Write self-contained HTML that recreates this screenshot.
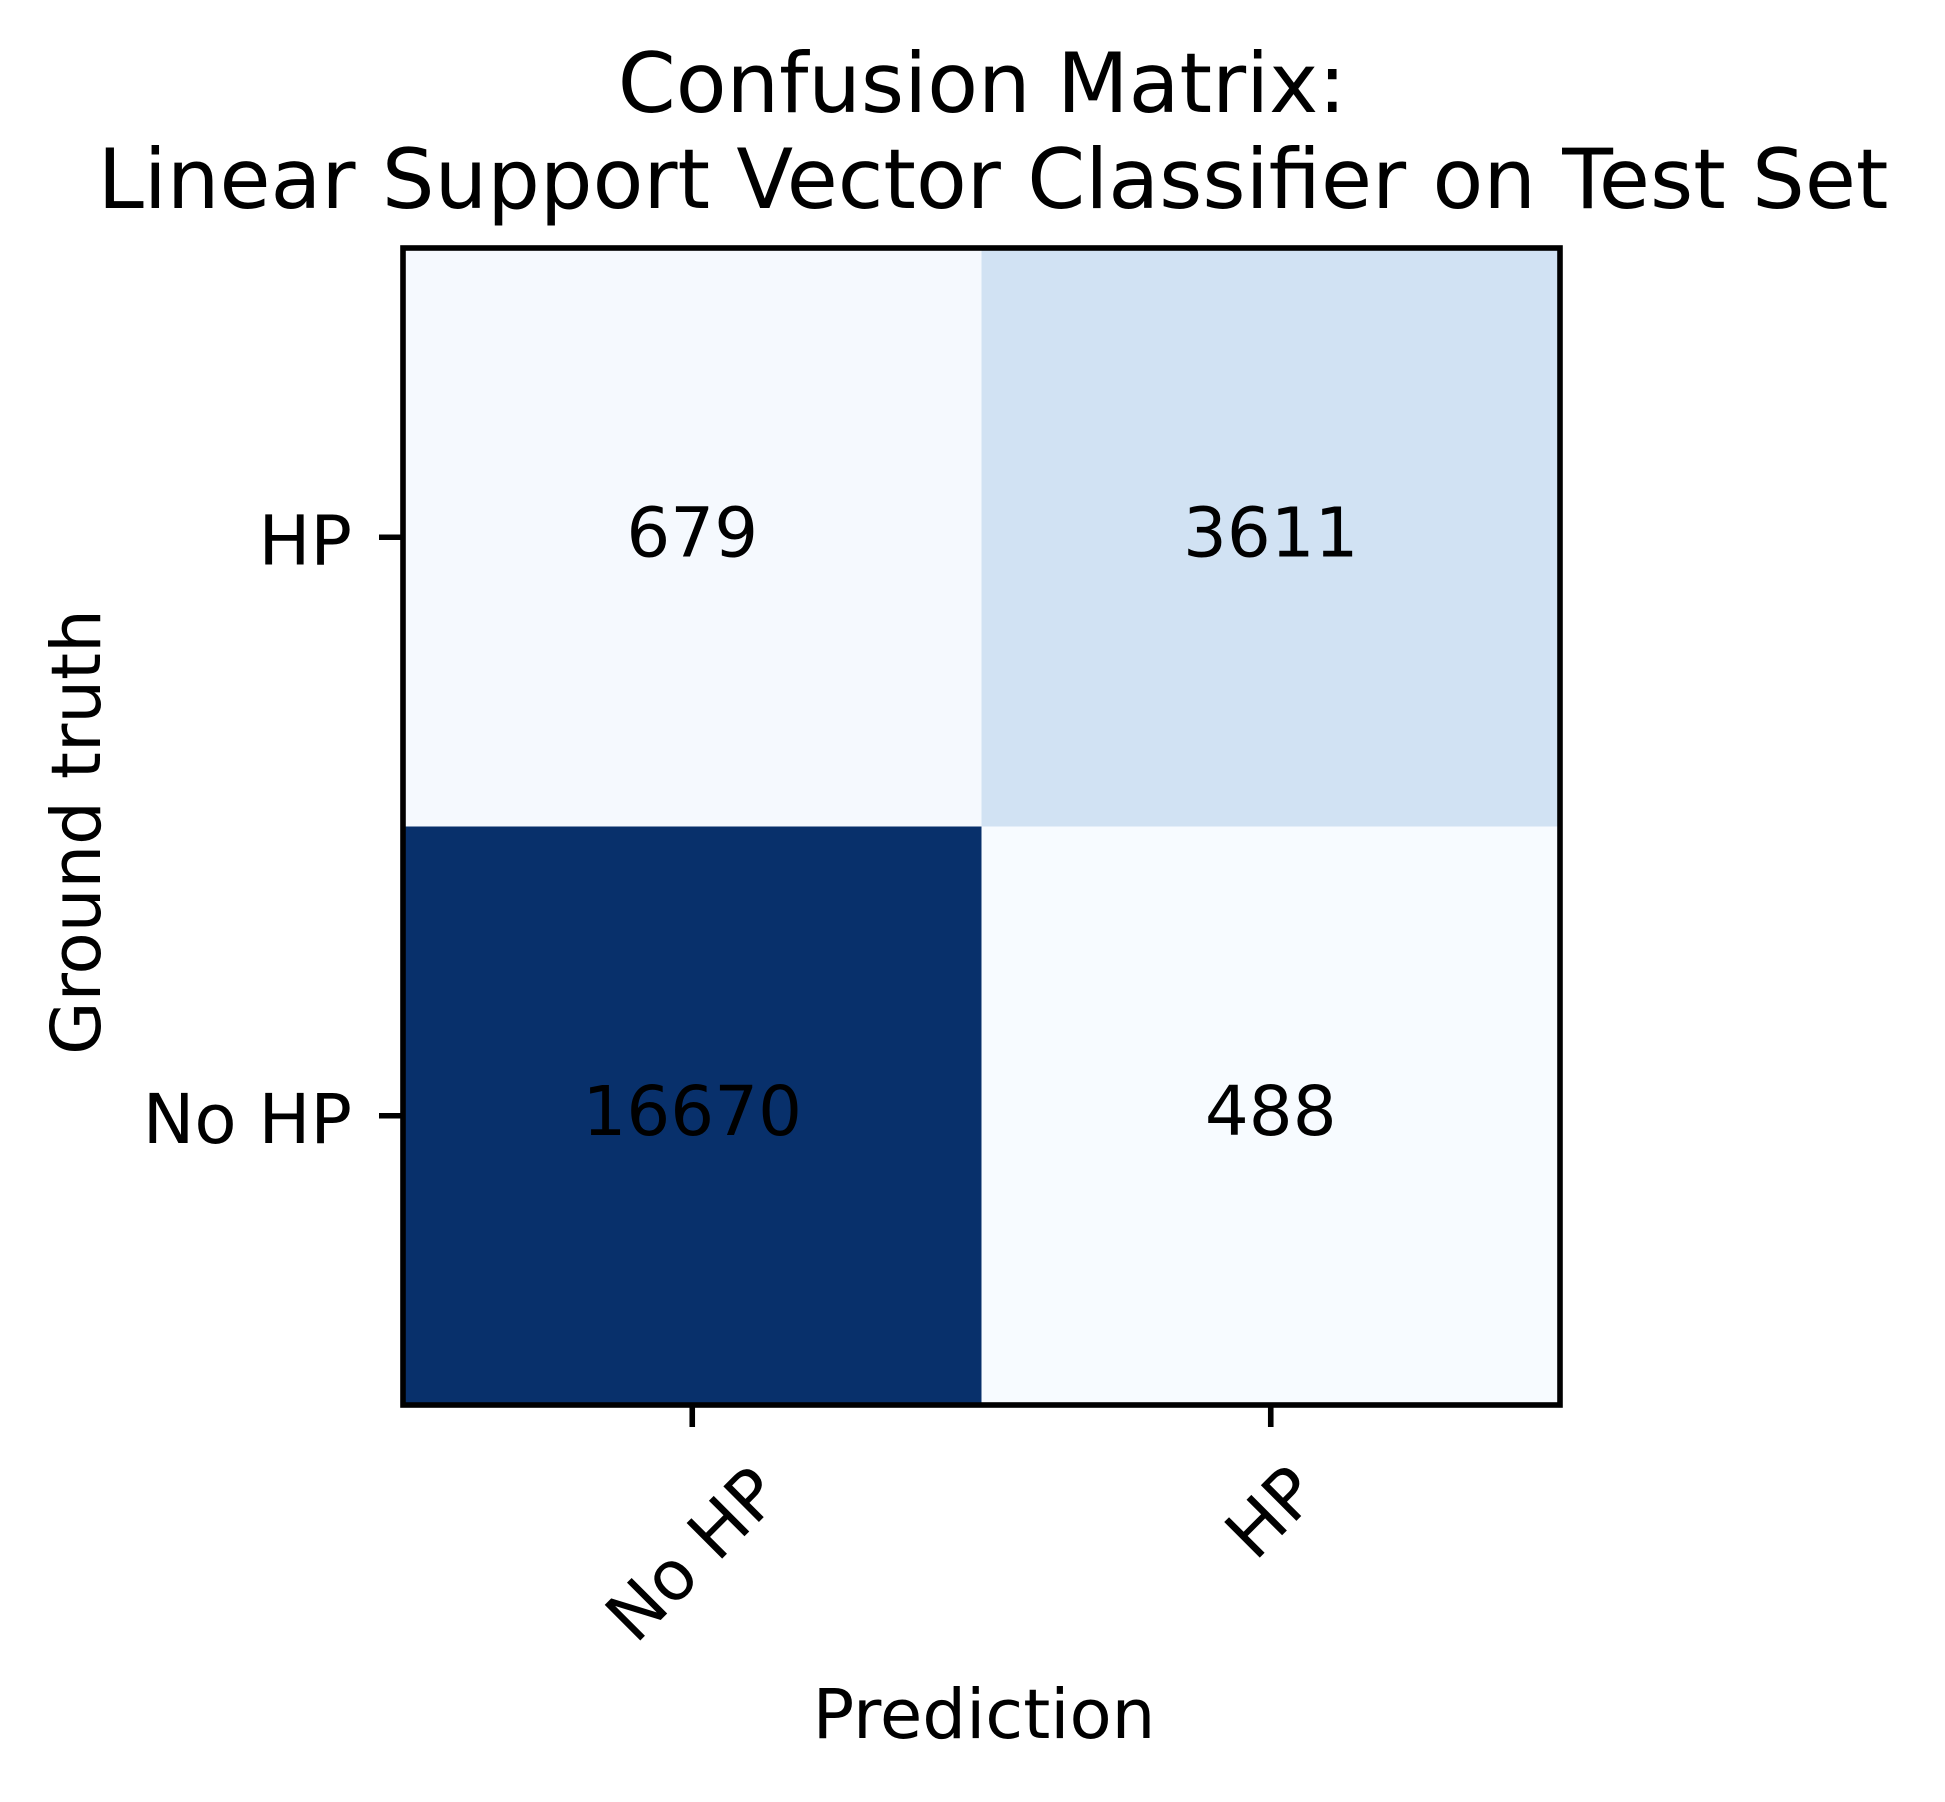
<!DOCTYPE html>
<html><head><meta charset="utf-8"><style>
html,body{margin:0;padding:0;background:#fff;}
svg{display:block;font-family:"DejaVu Sans","Liberation Sans",sans-serif;}
</style></head><body>
<svg id="chart" width="1945" height="1802" viewBox="0 0 1945 1802" xmlns="http://www.w3.org/2000/svg">
<rect width="1945" height="1802" fill="#fff"/>
<g id="cells"></g>
<g id="ticks"></g>
<rect x="403" y="248" width="1157" height="1157" fill="none" stroke="#000" stroke-width="5.6"/>
<text x="982" y="112" font-size="83" text-anchor="middle">Confusion Matrix:</text>
<text x="993" y="208" font-size="83" text-anchor="middle">Linear Support Vector Classifier on Test Set</text>
<text x="984" y="1738" font-size="69" text-anchor="middle">Prediction</text>
<text transform="translate(100,832) rotate(-90)" font-size="69" text-anchor="middle">Ground truth</text>
</svg>
<script>
const xCategories = ["No HP", "HP"];
const yCategories = ["HP", "No HP"];
const rowHP = [679, 3611];
const rowNoHP = [16670, 488];

const NS = "http://www.w3.org/2000/svg";
const L = 403, T = 248, S = 1157;
const matrix = [rowHP, rowNoHP];
const all = rowHP.concat(rowNoHP);
const vmin = Math.min(...all), vmax = Math.max(...all);
const cw = S / xCategories.length, ch = S / yCategories.length;
function xPos(i){ return L + i * cw; }
function yPos(j){ return T + j * ch; }
const stops = ["#f7fbff","#deebf7","#c6dbef","#9ecae1","#6baed6","#4292c6","#2171b5","#08519c","#08306b"];
function hex(c){ return [1,3,5].map(k=>parseInt(c.substr(k,2),16)); }
function blues(t){
  t = Math.max(0, Math.min(1, t));
  const p = t * (stops.length - 1), k = Math.min(Math.floor(p), stops.length - 2), f = p - k;
  const a = hex(stops[k]), b = hex(stops[k+1]);
  return "rgb(" + a.map((v,i)=>Math.round(v + (b[i]-v)*f)).join(",") + ")";
}
const cells = document.getElementById("cells");
const ticks = document.getElementById("ticks");
matrix.forEach((row, j) => {
  row.forEach((v, i) => {
    const r = document.createElementNS(NS, "rect");
    r.setAttribute("x", xPos(i)); r.setAttribute("y", yPos(j));
    r.setAttribute("width", cw + 0.5); r.setAttribute("height", ch + 0.5);
    r.setAttribute("fill", blues((v - vmin) / (vmax - vmin)));
    
    
    cells.appendChild(r);
    const t = document.createElementNS(NS, "text");
    t.setAttribute("x", xPos(i) + cw / 2); t.setAttribute("y", yPos(j) + ch / 2 + 19);
    t.setAttribute("font-size", "69"); t.setAttribute("text-anchor", "middle");
    t.textContent = v;
    
    
    cells.appendChild(t);
  });
});
xCategories.forEach((c, i) => {
  const cx = xPos(i) + cw / 2;
  const l = document.createElementNS(NS, "line");
  l.setAttribute("x1", cx); l.setAttribute("x2", cx);
  l.setAttribute("y1", T + S); l.setAttribute("y2", T + S + 22);
  l.setAttribute("stroke", "#000"); l.setAttribute("stroke-width", "5.6");
  
  
  ticks.appendChild(l);
  const t = document.createElementNS(NS, "text");
  const w = c.length > 2 ? 150 : 66;
  t.setAttribute("transform", "translate(" + (cx + 1) + "," + (1468 + w / 2 + 12) + ") rotate(-45)");
  t.setAttribute("font-size", "69"); t.setAttribute("text-anchor", "middle");
  t.setAttribute("dominant-baseline", "central");
  t.textContent = c;
  
  
  ticks.appendChild(t);
});
yCategories.forEach((c, j) => {
  const cy = yPos(j) + ch / 2;
  const l = document.createElementNS(NS, "line");
  l.setAttribute("x1", L - 24); l.setAttribute("x2", L);
  l.setAttribute("y1", cy); l.setAttribute("y2", cy);
  l.setAttribute("stroke", "#000"); l.setAttribute("stroke-width", "5.6");
  
  
  ticks.appendChild(l);
  const t = document.createElementNS(NS, "text");
  t.setAttribute("x", 352); t.setAttribute("y", cy + 27);
  t.setAttribute("font-size", "69"); t.setAttribute("text-anchor", "end");
  t.textContent = c;
  
  
  ticks.appendChild(t);
});
</script>
</body></html>
